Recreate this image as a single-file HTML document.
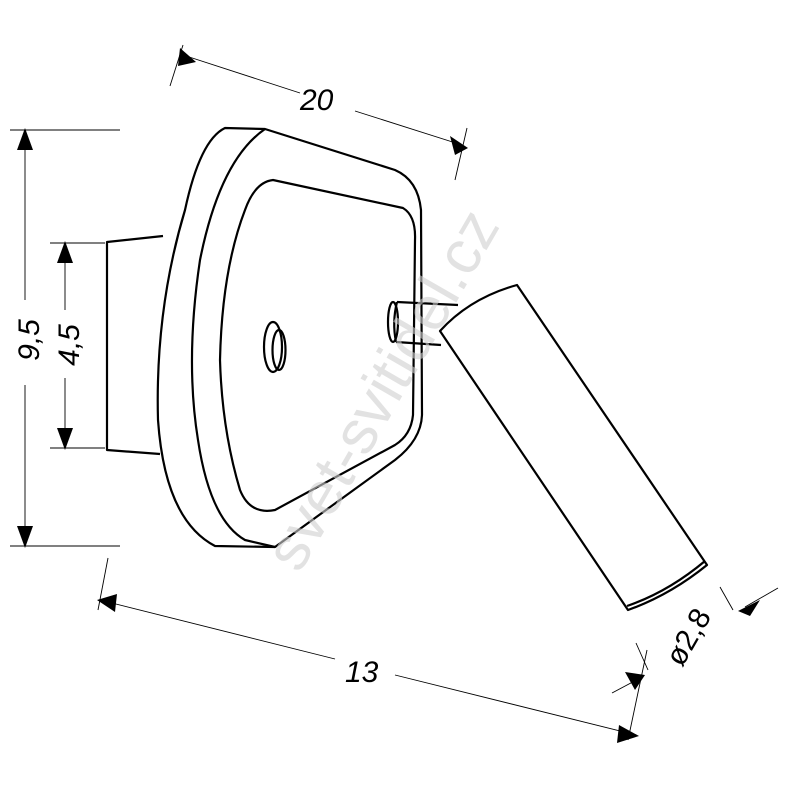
<!DOCTYPE html>
<html><head><style>body{margin:0;background:#fff}svg{display:block}</style></head><body>
<svg width="791" height="791" viewBox="0 0 791 791" xmlns="http://www.w3.org/2000/svg" font-family="Liberation Sans, sans-serif">
<g fill="none" stroke="#000" stroke-width="2.2" stroke-linejoin="round">
<path d="M163,236 L107,242 L107,450 L160,454"/>
<path d="M225,128 L265,129 L395,170 Q418,180 421,210 L422,415 Q421,440 395,460 L275,547 L215,546 Q165,520 158,420 Q155,310 185,210 Q200,140 225,128 Z" fill="#fff"/>
<path d="M265,129 Q220,160 200,260 Q185,360 198,440 Q210,520 245,540 L275,547"/>
<path d="M273,180 L403,208 Q416,216 415,240 L413,415 Q411,435 395,445 L275,510 Q250,515 240,490 Q222,430 220,360 Q222,270 245,210 Q255,182 273,180 Z"/>
<ellipse cx="273" cy="347" rx="9" ry="25"/>
<ellipse cx="279" cy="350" rx="6.5" ry="20"/>
<path d="M397,302 L458,305 M396,342 L441,345"/>
<ellipse cx="393" cy="322" rx="5" ry="20" fill="#fff"/>
<path d="M397,302 Q392,322 396,342"/>
<path d="M440,331 Q470,298 517,285 L707,565 Q670,595 628,610 Z" fill="#fff"/>
<path d="M627,606 Q668,592 705,561"/>
</g>
<text x="400" y="400" transform="rotate(-60 400 400)" text-anchor="middle" font-size="62" fill="#cfcfcf" fill-opacity="0.6">svet-svitidel.cz</text>
<g stroke="#000" stroke-width="0.9" fill="none">
<line x1="183" y1="45" x2="170" y2="86"/><line x1="467" y1="128" x2="455" y2="180"/>
<line x1="183" y1="55" x2="300" y2="93"/><line x1="355" y1="111" x2="462" y2="145"/>
<line x1="10" y1="130" x2="120" y2="130"/><line x1="10" y1="546" x2="120" y2="546"/>
<line x1="25" y1="132" x2="25" y2="300"/><line x1="25" y1="385" x2="25" y2="544"/>
<line x1="50" y1="243" x2="105" y2="243"/><line x1="50" y1="448" x2="105" y2="448"/>
<line x1="65" y1="245" x2="65" y2="310"/><line x1="65" y1="378" x2="65" y2="446"/>
<line x1="108" y1="558" x2="98" y2="610"/><line x1="647" y1="650" x2="628" y2="740"/>
<line x1="100" y1="600" x2="335" y2="659"/><line x1="395" y1="675" x2="636" y2="735"/>
<line x1="612" y1="693" x2="642" y2="677"/><line x1="636" y1="643" x2="648" y2="670"/>
<line x1="720" y1="587" x2="733" y2="610"/><line x1="745" y1="607" x2="778" y2="588"/>
</g>
<g fill="#000">
<polygon points="180,48 196,62 178,66"/>
<polygon points="468,148 450,136 455,155"/>
<polygon points="25,128 17,150 33,150"/>
<polygon points="25,548 17,526 33,526"/>
<polygon points="65,241 57,263 73,263"/>
<polygon points="65,450 57,428 73,428"/>
<polygon points="97,600 117,594 115,612"/>
<polygon points="639,736 619,725 617,743"/>
<polygon points="645,675 625,672 635,690"/>
<polygon points="738,611 760,600 750,616"/>
</g>
<g font-size="30" fill="#000" font-style="italic">
<text x="300" y="110">20</text>
<text x="345" y="682">13</text>
<text transform="translate(39,340) rotate(-90)" text-anchor="middle">9,5</text>
<text transform="translate(79,345) rotate(-90)" text-anchor="middle">4,5</text>
<text transform="translate(697,642) rotate(-60)" text-anchor="middle" font-style="normal">ø2,8</text>
</g>
</svg>
</body></html>
